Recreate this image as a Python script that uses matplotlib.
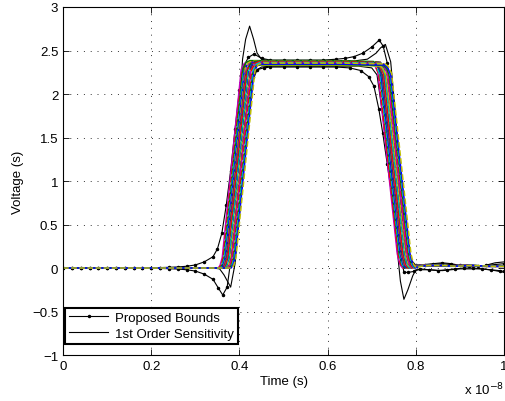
import matplotlib
matplotlib.use("Agg")
import matplotlib.pyplot as plt
from matplotlib.lines import Line2D

plt.rcParams['font.family'] = ['Liberation Sans', 'DejaVu Sans']
plt.rcParams['font.size'] = 9.5

# time axis in units of 1e-8 s
# nominal pulse (earliest trace), piecewise keypoints
pulse_t = [0, 0.352, 0.356, 0.361, 0.404, 0.411, 0.42, 0.60, 0.700, 0.707, 0.714,
           0.758, 0.764, 0.770, 0.78, 0.80, 0.83, 0.86, 0.90, 0.94, 0.97, 1.0]
pulse_v = [0, 0, 0.03, 0.12, 2.27, 2.34, 2.36, 2.36, 2.35, 2.32, 2.24,
           0.16, 0.04, 0.0, 0.02, 0.03, 0.03, 0.02, 0.03, 0.02, 0.02, 0.02]

# Monte Carlo traces: delay (1e-8 s) and plateau gain for each run
mc_delay = [0.000, 0.002, 0.004, 0.005, 0.007, 0.009, 0.010, 0.012, 0.013, 0.015,
            0.016, 0.018, 0.019, 0.021, 0.022, 0.024, 0.026, 0.027, 0.029, 0.031]
mc_gain = [1.005, 0.995, 1.010, 0.990, 1.000, 1.008, 0.992, 1.003, 0.997, 1.006,
           0.994, 1.002, 0.988, 1.007, 0.996, 1.004, 0.991, 1.001, 0.993, 0.998]
mc_colors = [(0.75, 0, 0.75), (1, 0, 0), (0, 0.5, 0), (0, 0.75, 0.75), (0, 0, 1),
             (0.75, 0.75, 0), (0.25, 0.25, 0.25)]
mc_styles = ['-', '--']

# proposed bounds (upper / lower)
ub_t = [0, 0.02, 0.04, 0.06, 0.08, 0.10, 0.12, 0.14, 0.16, 0.18, 0.20, 0.22, 0.24,
        0.26, 0.28, 0.30, 0.32, 0.34, 0.35, 0.36, 0.37, 0.38, 0.39, 0.40, 0.41,
        0.42, 0.433, 0.45, 0.47, 0.50, 0.53, 0.56, 0.59, 0.62, 0.64, 0.66, 0.68,
        0.70, 0.717, 0.726, 0.735, 0.745, 0.755, 0.765, 0.775, 0.785, 0.80,
        0.82, 0.84, 0.86, 0.88, 0.90, 0.92, 0.94, 0.96, 0.98, 1.0]
ub_v = [0, 0, 0, 0, 0, 0, 0, 0, 0, 0, 0.003, 0.005, 0.008,
        0.012, 0.02, 0.035, 0.07, 0.13, 0.22, 0.40, 0.72, 1.12, 1.60, 2.05, 2.32,
        2.42, 2.46, 2.41, 2.39, 2.39, 2.39, 2.39, 2.39, 2.40, 2.41, 2.43, 2.47,
        2.54, 2.62, 2.55, 2.36, 1.95, 1.35, 0.75, 0.28, 0.08, 0.03,
        0.04, 0.05, 0.06, 0.05, 0.03, 0.02, 0.02, 0.03, 0.04, 0.05]
lb_t = [0, 0.02, 0.04, 0.06, 0.08, 0.10, 0.12, 0.14, 0.16, 0.18, 0.20, 0.22, 0.24,
        0.26, 0.28, 0.30, 0.32, 0.34, 0.352, 0.362, 0.372, 0.382, 0.39, 0.40, 0.41,
        0.42, 0.43, 0.44, 0.455, 0.47, 0.50, 0.53, 0.56, 0.59, 0.62, 0.65, 0.675,
        0.693, 0.705, 0.716, 0.725, 0.735, 0.745, 0.755, 0.765, 0.773, 0.783, 0.795,
        0.81, 0.83, 0.85, 0.87, 0.89, 0.91, 0.93, 0.95, 0.97, 0.99, 1.0]
lb_v = [0, 0, 0, 0, 0, 0, 0, 0, 0, 0, -0.003, -0.005, -0.008,
        -0.012, -0.02, -0.035, -0.07, -0.13, -0.23, -0.31, -0.22, 0.15, 0.55, 1.05, 1.55,
        1.95, 2.2, 2.28, 2.30, 2.31, 2.31, 2.31, 2.31, 2.31, 2.31, 2.30, 2.27,
        2.20, 2.09, 1.83, 1.55, 1.2, 0.85, 0.5, 0.18, -0.05, -0.05, -0.04,
        -0.01, -0.02, -0.03, -0.02, -0.01, 0.0, 0.0, -0.01, -0.02, -0.03, -0.04]

# first order sensitivity (upper / lower)
su_t = [0, 0.34, 0.36, 0.37, 0.38, 0.39, 0.40, 0.407, 0.414, 0.423, 0.432, 0.44,
        0.45, 0.47, 0.52, 0.60, 0.66, 0.69, 0.71, 0.72, 0.731, 0.743, 0.755, 0.765,
        0.775, 0.785, 0.80, 0.83, 0.86, 0.90, 0.95, 0.98, 1.0]
su_v = [0, 0.0, 0.01, 0.15, 0.6, 1.2, 1.85, 2.40, 2.63, 2.78, 2.63, 2.47,
        2.40, 2.38, 2.38, 2.38, 2.38, 2.40, 2.47, 2.53, 2.57, 2.37, 1.7, 1.05,
        0.45, 0.12, 0.03, 0.04, 0.05, 0.03, 0.02, 0.06, 0.07]
sl_t = [0, 0.34, 0.355, 0.365, 0.38, 0.39, 0.40, 0.41, 0.42, 0.43, 0.44, 0.45,
        0.47, 0.52, 0.60, 0.67, 0.70, 0.712, 0.725, 0.74, 0.755, 0.765, 0.773,
        0.782, 0.793, 0.80, 0.83, 0.86, 0.90, 0.95, 0.98, 1.0]
sl_v = [0, 0.0, -0.01, -0.08, -0.22, 0.05, 0.6, 1.2, 1.75, 2.15, 2.28, 2.31,
        2.32, 2.32, 2.32, 2.32, 2.30, 2.22, 1.75, 1.1, 0.35, -0.15, -0.36,
        -0.25, -0.09, -0.02, -0.02, -0.03, -0.01, -0.01, -0.03, -0.05]

fig = plt.figure(figsize=(5.05, 4.02), dpi=100)
ax = fig.add_axes([0.125, 0.1144, 0.873, 0.8657])

ax.plot(ub_t, ub_v, 'k.-', lw=0.8, ms=3)
ax.plot(lb_t, lb_v, 'k.-', lw=0.8, ms=3)
ax.plot(su_t, su_v, 'k-', lw=0.8)
ax.plot(sl_t, sl_v, 'k-', lw=0.8)

for i, (d, g) in enumerate(zip(mc_delay, mc_gain)):
    tt = [t + d for t in pulse_t]
    vv = [v * g for v in pulse_v]
    tt[0] = 0
    tt[-1] = 1.0
    ax.plot(tt, vv, color=mc_colors[i % len(mc_colors)],
            ls=mc_styles[i % 2], lw=1.1)

ax.set_xlim(0, 1)
ax.set_ylim(-1, 3)
ax.set_xticks([0, 0.2, 0.4, 0.6, 0.8, 1])
ax.set_xticklabels(['0', '0.2', '0.4', '0.6', '0.8', '1'])
ax.set_yticks([-1, -0.5, 0, 0.5, 1, 1.5, 2, 2.5, 3])
ax.set_yticklabels(['\u22121', '\u22120.5', '0', '0.5', '1', '1.5', '2', '2.5', '3'])
ax.tick_params(direction='in', length=4, width=0.6, top=True, right=True)
ax.grid(True, ls=(0, (1, 6)), color='k', lw=0.7, alpha=0.8)
for s in ax.spines.values():
    s.set_linewidth(0.8)

ax.set_xlabel('Time (s)', labelpad=2)
ax.set_ylabel('Voltage (s)', labelpad=6)
ax.text(1.0, -0.075, 'x 10$^{-8}$', transform=ax.transAxes, ha='right', va='top')

h_bound = Line2D([], [], color='k', marker='.', ms=3, lw=0.8)
h_sens = Line2D([], [], color='k', lw=0.8)
leg = ax.legend([h_bound, h_sens], ['Proposed Bounds', '1st Order Sensitivity'],
                loc='lower left', bbox_to_anchor=(0.004, 0.032), fancybox=False,
                framealpha=1, edgecolor='k', handlelength=3, borderaxespad=0,
                borderpad=0.3, labelspacing=0.3, handletextpad=0.5, numpoints=1)
leg.get_frame().set_linewidth(1.5)

fig.savefig('out.png', dpi=100)
